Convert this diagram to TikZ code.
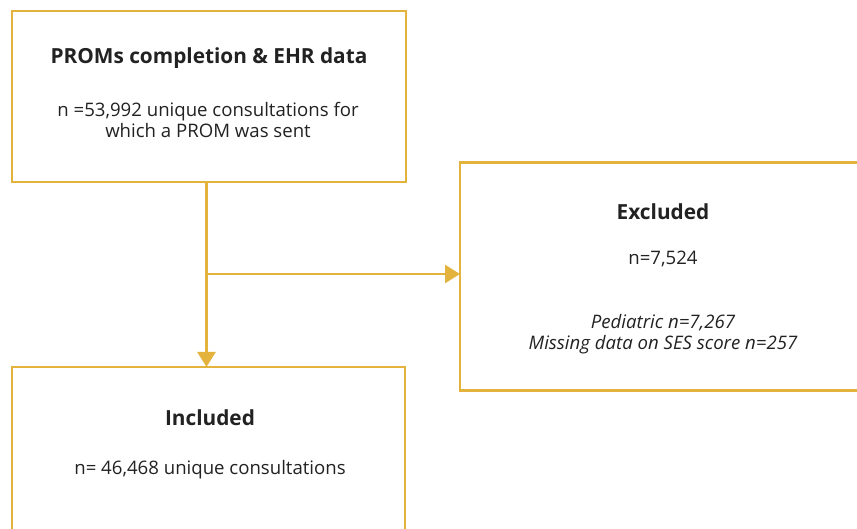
\documentclass[tikz,border=0pt]{standalone}
\usepackage{fontspec}
\setmainfont{Open Sans}
\usetikzlibrary{arrows.meta}
\definecolor{gold}{HTML}{E3B33D}
\definecolor{ink}{HTML}{222222}
\begin{document}
\begin{tikzpicture}[x=1pt,y=-1pt,
  box/.style={draw=gold,line width=2.5pt,fill=white,inner sep=0pt,outer sep=0pt},
  ttl/.style={text=ink,font=\fontsize{20.8}{24}\selectfont\bfseries,align=center},
  txt/.style={text=ink,font=\fontsize{18.6}{21.5}\selectfont,align=center},
  itx/.style={text=ink,font=\fontsize{18.6}{21.5}\selectfont\itshape,align=center},
  conn/.style={draw=gold,line width=2.5pt,-{Triangle[length=15pt,width=18pt]}}]
\useasboundingbox[fill=white] (0,0) rectangle (857,529);
\begin{scope}
\clip (0,0) rectangle (857,529);
\node[box,minimum width=394pt,minimum height=171pt] (top) at (209,96.5) {};
\node[box,minimum width=406pt,minimum height=228pt] (excl) at (663,276.5) {};
\node[box,minimum width=393pt,minimum height=193pt] (incl) at (208.5,463.5) {};
\node[ttl] (t1) at (209,58.5) {PROMs completion \& EHR data};
\node[txt] (t2) at (208,120) {n =53,992 unique consultations for\\which a PROM was sent};
\node[ttl] (e1) at (663,212) {Excluded};
\node[txt] (e2) at (663,259) {n=7,524};
\node[itx] (e3) at (663,334) {Pediatric n=7,267\\Missing data on SES score n=257};
\node[ttl] (i1) at (210,418) {Included};
\node[txt] (i2) at (210,469.5) {n= 46,468 unique consultations};
\coordinate (v) at (206.5,182);
\coordinate (j) at (206.5,274);
\draw[conn] (top.south -| v) -- (incl.north -| v);
\draw[conn] (j) -- (j -| excl.west);
\end{scope}
\end{tikzpicture}
\end{document}
